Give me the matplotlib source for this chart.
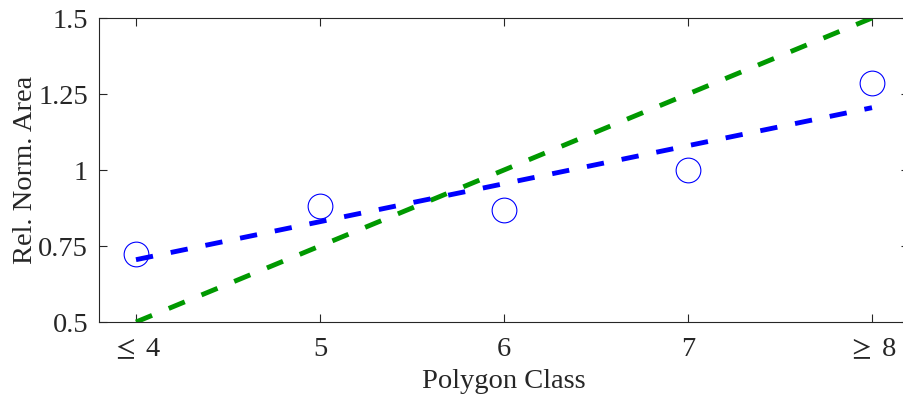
import matplotlib
matplotlib.use("Agg")
import matplotlib.pyplot as plt

# polygon classes and measured values
classes = [4, 5, 6, 7, 8]
class_labels = [r"$\leq$ 4", "5", "6", "7", r"$\geq$ 8"]
rel_area = [0.725, 0.880, 0.868, 1.000, 1.287]

# fitted line (blue) and reference line (green), at the end classes
fit_x = [4, 8]
fit_y = [0.705, 1.205]
ref_y = [0.5, 1.5]

yticks = [0.5, 0.75, 1, 1.25, 1.5]
ytick_labels = ["0.5", "0.75", "1", "1.25", "1.5"]

plt.rcParams['font.family'] = ['Liberation Serif', 'DejaVu Serif']
plt.rcParams['mathtext.fontset'] = 'stix'
plt.rcParams['lines.scale_dashes'] = False

fig = plt.figure(figsize=(9.04, 3.96), dpi=100)
ax = fig.add_axes([99.2 / 904, 74 / 396, 809.6 / 904, 304 / 396])

ax.plot(fit_x, ref_y, color='#009900', lw=3.5, dashes=(12.5, 13))
ax.plot(fit_x, fit_y, color='#0000ff', lw=3.5, dashes=(12.5, 13))
ax.plot(classes, rel_area, 'o', mfc='none', mec='#0000ff', ms=17.8, mew=0.8)

ax.set_xlim(3.8, 8.2)
ax.set_ylim(0.5, 1.5)
ax.set_xticks(classes)
ax.set_xticklabels(class_labels)
ax.set_yticks(yticks)
ax.set_yticklabels(ytick_labels)

ax.tick_params(direction='in', length=5.8, width=0.8, top=True, right=True,
               labelsize=20.5, colors='#262626', labelcolor='#262626')
ax.tick_params(axis='x', pad=11)
ax.tick_params(axis='y', pad=8)
for s in ax.spines.values():
    s.set_color('#262626')
    s.set_linewidth(0.8)

ax.set_xlabel("Polygon Class", fontsize=20.5, color='#262626', labelpad=5)
ax.set_ylabel("Rel. Norm. Area", fontsize=20.5, color='#262626', labelpad=0)

fig.savefig("out.png", dpi=100)
